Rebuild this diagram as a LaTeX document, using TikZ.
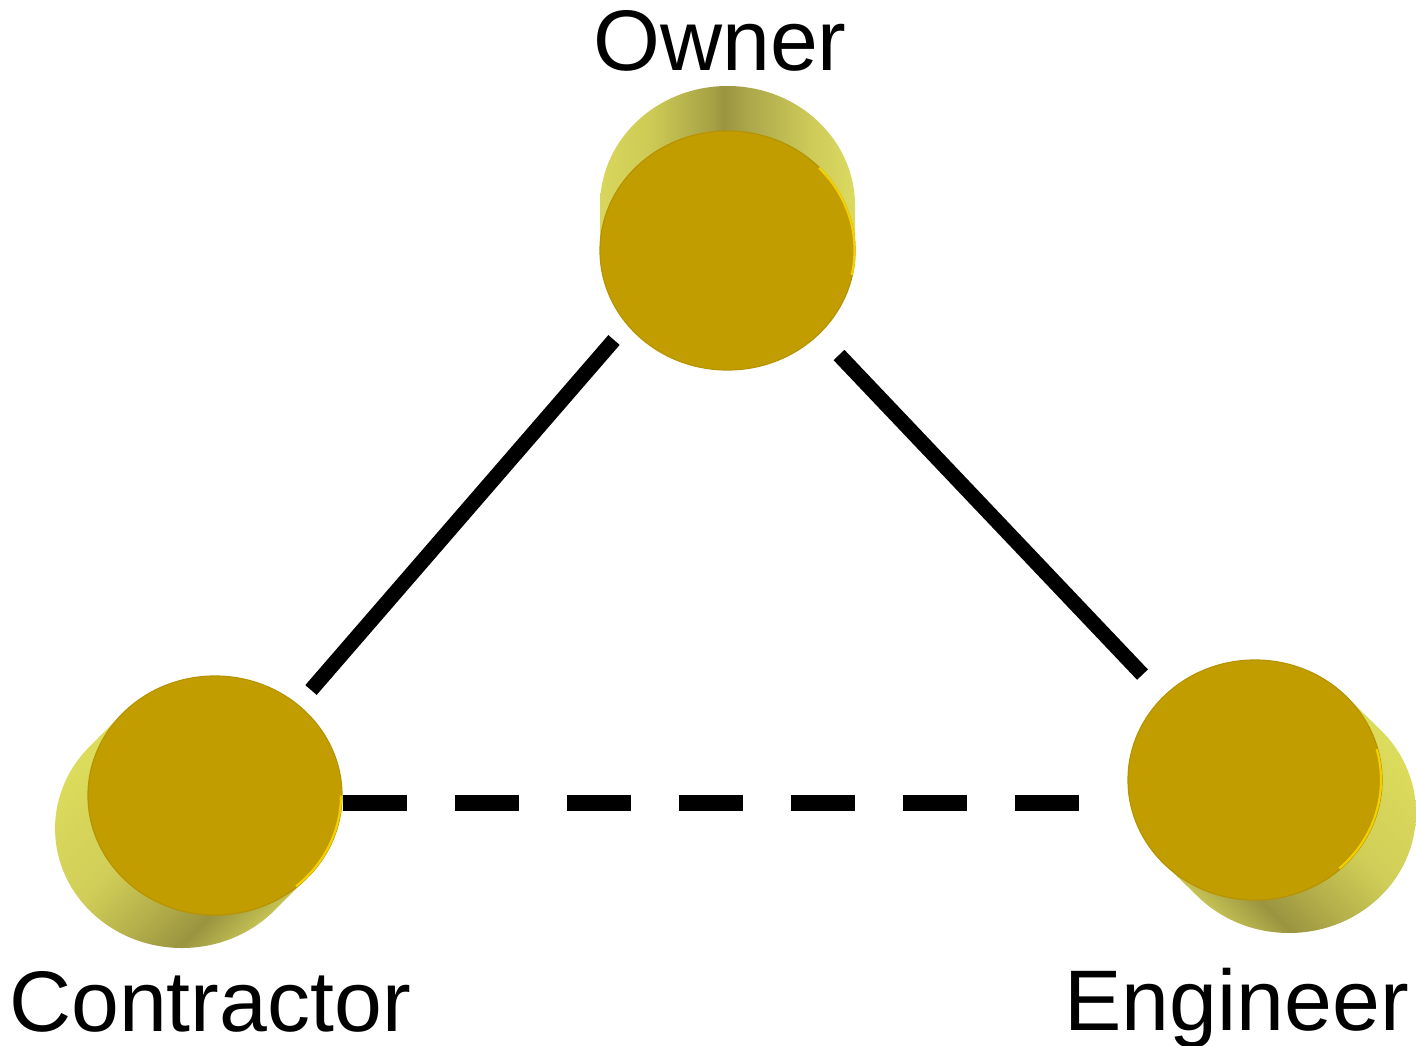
\documentclass[tikz,border=0pt]{standalone}
\usepackage{fontspec}
\setmainfont{Liberation Sans}
\usetikzlibrary{shapes.geometric}
\definecolor{faceC}{HTML}{C29D00}
\definecolor{rimC}{HTML}{B89300}
\definecolor{hlC}{HTML}{F4D000}
\definecolor{oA}{HTML}{D8D65C}
\definecolor{oB}{HTML}{CDCB55}
\definecolor{oC}{HTML}{A5A045}
\definecolor{oD}{HTML}{9A9440}
\definecolor{oE}{HTML}{ABA74B}
\definecolor{oF}{HTML}{CFCC5A}
\definecolor{oG}{HTML}{DADA60}
\definecolor{dA}{HTML}{DCDC5C}
\definecolor{dB}{HTML}{D0CE58}
\definecolor{dC}{HTML}{B3AE4A}
\definecolor{dD}{HTML}{9A9440}
\definecolor{dE}{HTML}{C6C355}
\pgfdeclarehorizontalshading{sideO}{100bp}{color(0bp)=(oA); color(25bp)=(oA); color(35bp)=(oB); color(47.3bp)=(oC); color(49.2bp)=(oD); color(53.9bp)=(oE); color(66.8bp)=(oF); color(75bp)=(oG); color(100bp)=(oG)}
\pgfdeclarehorizontalshading{sideD}{100bp}{color(0bp)=(dA); color(25bp)=(dA); color(46bp)=(dB); color(58bp)=(dC); color(66.5bp)=(dD); color(75bp)=(dE); color(100bp)=(dE)}
\begin{document}
\begin{tikzpicture}[x=1pt,y=-1pt,
  face/.style={ellipse, inner sep=0pt, minimum width=255pt, minimum height=239pt, fill=faceC, draw=rimC, line width=1.2pt},
  hilite/.style={draw=hlC, line width=2.2pt},
  conn/.style={line width=15pt, line cap=butt},
  dashconn/.style={line width=16pt, line cap=butt, dash pattern=on 64pt off 48pt},
  lbl/.style={inner sep=0pt, text depth=0pt, font=\fontsize{86}{100}\selectfont}]
\useasboundingbox (0,0) rectangle (1416,1046);

% Owner side
\begin{scope}
\clip (855,250.5) -- (855,205.5) arc[start angle=0,end angle=-180,x radius=127.5,y radius=119.5] -- (600,250.5) arc[start angle=180,end angle=0,x radius=127.5,y radius=119.5] -- cycle;
\shade[shading=sideO] (599.5,80) rectangle (855.5,380);
\end{scope}

% Contractor side
\begin{scope}
\clip (307.5,877.4) -- (274.5,910.4) arc[start angle=43.26,end angle=223.26,x radius=127,y radius=119.5] -- (122.5,713.6) arc[start angle=223.26,end angle=403.26,x radius=127,y radius=119.5] -- cycle;
\begin{scope}[shift={(198.5,812)},rotate=-45,scale=4.96]
\pgflowlevelsynccm
\pgfuseshading{sideD}
\end{scope}
\end{scope}

% Engineer side
\begin{scope}
\clip (1346,696.3) -- (1380,729.3) arc[start angle=-44.23,end angle=135.77,x radius=127,y radius=120] -- (1164,863.7) arc[start angle=135.77,end angle=315.77,x radius=127,y radius=120] -- cycle;
\begin{scope}[shift={(1272,796.5)},rotate=-135,scale=4.96]
\pgflowlevelsynccm
\pgfuseshading{sideD}
\end{scope}
\end{scope}

% front faces
\node[face] (owner) at (727.5,250.5) {};
\node[face, minimum width=254pt] (contractor) at (215,795.5) {};
\node[face, minimum width=254pt, minimum height=240pt] (engineer) at (1255,780) {};

% rim highlights
\draw[hilite] (819.0,167.9) arc[start angle=-44,end angle=12,x radius=126.5,y radius=118.5];
\draw[hilite] (341,795.5) arc[start angle=0,end angle=50,x radius=126,y radius=118.5];
\draw[hilite] (1376.7,749.2) arc[start angle=-15,end angle=48,x radius=126,y radius=119];

% connector ends
\coordinate (oc) at (614,340);
\coordinate (co) at (311,690);
\coordinate (oe) at (839,355);
\coordinate (eo) at (1142.5,674.6);
\coordinate (ce) at (343,803);
\coordinate (ec) at (1079,803);

\draw[conn] (oc) -- (co);
\draw[conn] (oe) -- (eo);
\draw[dashconn] (ce) -- (ec);

% labels
\node[lbl, anchor=base] (ownerlbl) at (720,71) {Owner};
\node[lbl, anchor=base west] (contrlbl) at (9,1031) {Contractor};
\node[lbl, anchor=base east] (englbl) at (1409,1030) {Engineer};
\end{tikzpicture}
\end{document}
